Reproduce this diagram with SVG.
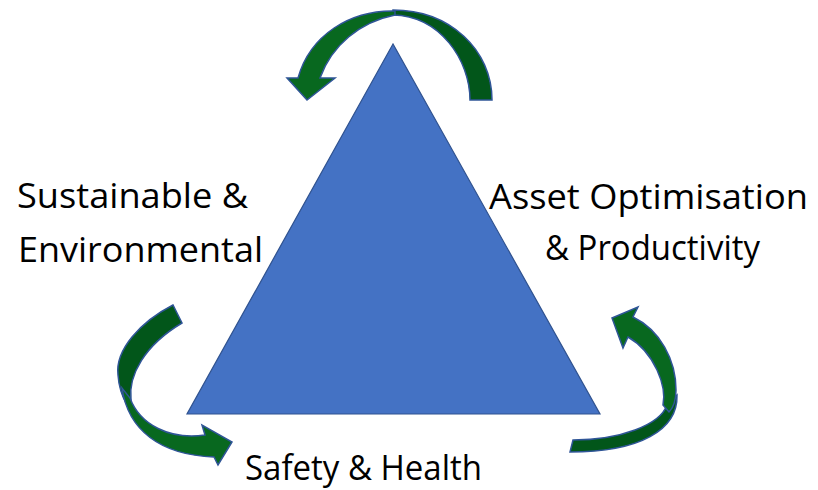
<svg xmlns="http://www.w3.org/2000/svg" width="818" height="490" viewBox="0 0 818 490">
<style>
.lbl{font-family:"Open Sans","Liberation Sans",sans-serif;font-size:35px;fill:#000}
.g1{fill:#08681F;stroke:#2F5597;stroke-width:1.5;stroke-linejoin:miter}
.g2{fill:#02561A;stroke:#2F5597;stroke-width:1.5;stroke-linejoin:miter}
</style>
<rect width="818" height="490" fill="#fff"/>
<g id="triangle">
<polygon points="393,44 187,414 600,414" fill="#4472C4" stroke="#2F528F" stroke-width="1.2"/>
</g>
<g id="connectors">
<g id="arrow-top">
<path class="g2" d="M393,10 C450,10 492,50 492,100 L470,100 C470,60 440,16 393,15 Z"/>
<path class="g1" d="M395,11 C350,10 310,35 298,78 L287,78 L307,100 L335,78 L320,78 C332,45 360,22 395,15 Z"/>
</g>
<g id="arrow-left">
<path class="g2" d="M173,305 C140,322 115,350 118,375 C119,390 123,398 127,405 L131,400 C128,375 145,345 182,323 Z"/>
<path class="g1" d="M122,388 C128,430 160,455 214,457 L218,465 L232,442 L202,425 L205,435 C170,440 140,425 130,398 Z"/>
</g>
<g id="arrow-right">
<path class="g2" d="M677,395 C678,430 640,452 570,452 L573,440 C620,440 660,425 667,405 Z"/>
<path class="g1" d="M612,318 L638,307 L633,317 C660,330 676,360 676,390 C676,400 673,408 669,412 L663,405 C665,395 663,383 657,370 C650,355 642,345 628,337 L623,348 Z"/>
</g>
</g>
<g id="label-sustainable">
<text class="lbl" x="17" y="208" textLength="231" lengthAdjust="spacingAndGlyphs">Sustainable &amp;</text>
<text class="lbl" x="18" y="262" textLength="245" lengthAdjust="spacingAndGlyphs">Environmental</text>
</g>
<g id="label-asset">
<text class="lbl" x="489" y="209" textLength="319" lengthAdjust="spacingAndGlyphs">Asset Optimisation</text>
<text class="lbl" x="545" y="260" textLength="215" lengthAdjust="spacingAndGlyphs">&amp; Productivity</text>
</g>
<g id="label-safety">
<text class="lbl" x="245" y="480" textLength="237" lengthAdjust="spacingAndGlyphs">Safety &amp; Health</text>
</g>
</svg>
